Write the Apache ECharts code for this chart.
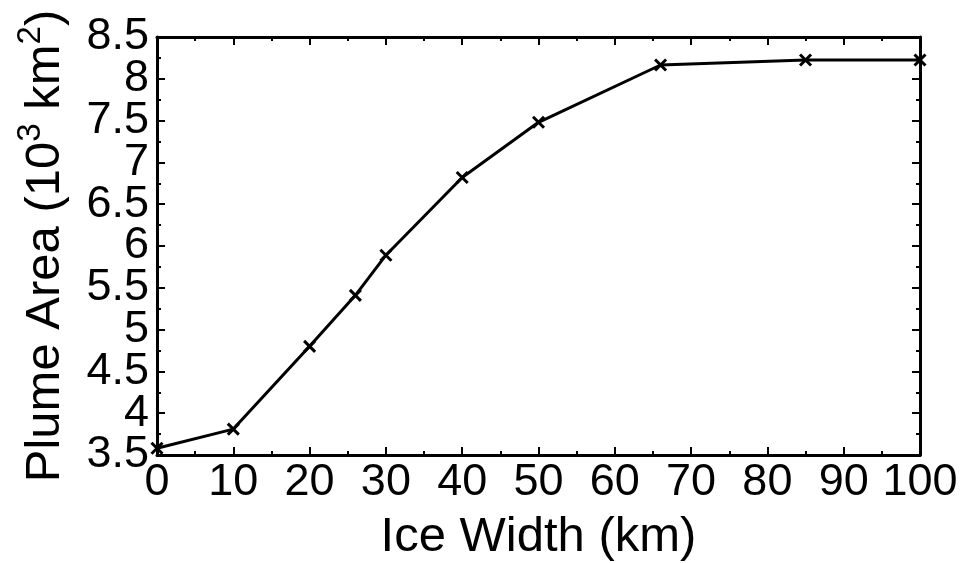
<!DOCTYPE html>
<html>
<head>
<meta charset="utf-8">
<script src="https://cdn.jsdelivr.net/npm/echarts@6/dist/echarts.min.js"></script>
<style>html,body{margin:0;padding:0;background:#fff}#c{width:965px;height:563px}</style>
</head>
<body>
<div id="c"></div>
<script>
var iceWidth = [0, 10, 20, 26, 30, 40, 50, 66, 85, 100];
var plumeArea = [3.58, 3.81, 4.80, 5.41, 5.89, 6.82, 7.48, 8.165, 8.225, 8.225];
var yMin = 3.5, yMax = 8.5;

var chart = echarts.init(document.getElementById('c'), null, {renderer: 'canvas'});
var FONT = 'Liberation Sans, Arial, sans-serif';
var axisCommon = {
  axisLine: {show: true, onZero: false, lineStyle: {color: '#000', width: 3}},
  axisTick: {show: true, inside: true, length: 8, lineStyle: {color: '#000', width: 2}},
  minorTick: {show: true, splitNumber: 2, length: 4, lineStyle: {color: '#000', width: 2}},
  splitLine: {show: false},
  minorSplitLine: {show: false}
};
function ax(extra) { return Object.assign({}, JSON.parse(JSON.stringify(axisCommon)), extra); }
var yLabelStyle = {color: '#000', fontFamily: FONT, fontSize: 45, margin: 8};

chart.setOption({
  animation: false,
  backgroundColor: '#fff',
  grid: {left: 157, right: 45, top: 37, bottom: 108, containLabel: false, outerBoundsMode: 'none'},
  xAxis: [
    ax({type: 'value', position: 'bottom', min: 0, max: 100, interval: 10,
      axisLabel: {color: '#000', fontFamily: FONT, fontSize: 45, margin: 5,
        showMinLabel: true, showMaxLabel: true},
      name: 'Ice Width (km)', nameLocation: 'middle', nameGap: 58,
      nameTextStyle: {color: '#000', fontFamily: FONT, fontSize: 49}}),
    ax({type: 'value', position: 'top', min: 0, max: 100, interval: 10,
      axisLabel: {show: false}})
  ],
  yAxis: [
    ax({type: 'value', position: 'left', min: yMin, max: yMax, interval: 0.5,
      axisLabel: Object.assign({showMinLabel: false, showMaxLabel: false}, yLabelStyle),
      name: '{n|Plume Area (10}{s|3}{n| km}{s|2}{n|)}', nameLocation: 'middle', nameGap: 87, nameRotate: 90,
      nameTextStyle: {color: '#000', fontFamily: FONT, fontSize: 49,
        rich: {
          n: {fontFamily: FONT, fontSize: 49, color: '#000', lineHeight: 56, verticalAlign: 'bottom'},
          s: {fontFamily: FONT, fontSize: 33, color: '#000', lineHeight: 56, verticalAlign: 'top'}
        }}}),
    ax({type: 'value', position: 'right', min: yMin, max: yMax, interval: 0.5,
      axisLabel: {show: false}}),
    {type: 'value', position: 'left', min: yMin, max: yMax, interval: 0.5,
      axisLine: {show: false}, axisTick: {show: false}, splitLine: {show: false},
      axisLabel: Object.assign({showMinLabel: true, showMaxLabel: true,
        formatter: function (v) { return (v === yMin || v === yMax) ? String(v) : ''; }}, yLabelStyle)}
  ],
  series: [{
    type: 'line',
    data: iceWidth.map(function (x, i) { return [x, plumeArea[i]]; }),
    xAxisIndex: 0, yAxisIndex: 0,
    lineStyle: {color: '#000', width: 3},
    symbol: 'path://M0,0L10,10M10,0L0,10',
    symbolSize: 11,
    itemStyle: {color: 'rgba(0,0,0,0)', borderColor: '#000', borderWidth: 3},
    clip: false
  }]
});
</script>
</body>
</html>
